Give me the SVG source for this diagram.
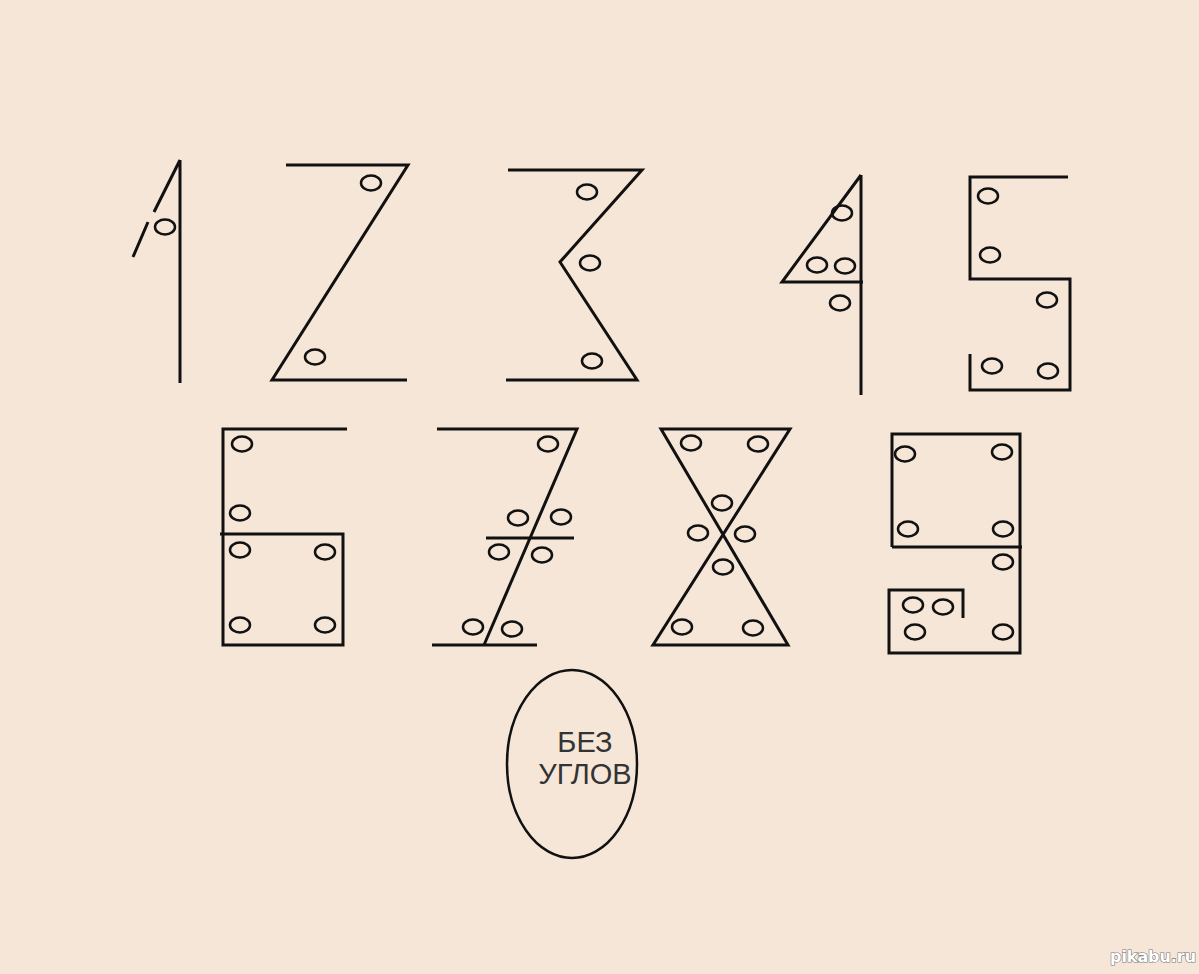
<svg xmlns="http://www.w3.org/2000/svg" width="1199" height="974" viewBox="0 0 1199 974">
<style>
.ln{fill:none;stroke:#111;stroke-width:3;stroke-linejoin:miter;stroke-linecap:butt}
.dot{fill:none;stroke:#111;stroke-width:2.5}
.lbl{font-family:"Liberation Sans",Arial,sans-serif;font-size:29px;fill:#333;text-anchor:middle}
.wm{font-family:"DejaVu Sans",sans-serif;font-weight:bold;font-size:16px;fill:#fff;stroke:#777;stroke-width:1.2;paint-order:stroke}
</style>
<defs>
<ellipse id="o" cx="0" cy="0" rx="10" ry="7.5" class="dot"/>
</defs>
<rect x="0" y="0" width="1199" height="974" fill="#f6e6d8"/>
<g id="digit1">
<path class="ln" d="M180,160 V383 M180,160 L154,212 M148,222 L133,257"/>
<use href="#o" x="165" y="227"/>
</g>
<g id="digit2">
<path class="ln" d="M286,165 H408 L272,380 H407"/>
<use href="#o" x="371" y="183"/>
<use href="#o" x="315" y="357"/>
</g>
<g id="digit3">
<path class="ln" d="M508,170 H642 L560,262 L637,380 H506"/>
<use href="#o" x="587" y="192"/>
<use href="#o" x="590" y="263"/>
<use href="#o" x="592" y="361"/>
</g>
<g id="digit4">
<path class="ln" d="M861,175 V395 M861,175 L782,282 H863"/>
<use href="#o" x="842" y="213"/>
<use href="#o" x="817" y="265"/>
<use href="#o" x="845" y="266"/>
<use href="#o" x="840" y="303"/>
</g>
<g id="digit5">
<path class="ln" d="M1068,177 H970 V279 H1070 V390 H970 V354"/>
<use href="#o" x="988" y="196"/>
<use href="#o" x="990" y="255"/>
<use href="#o" x="1047" y="300"/>
<use href="#o" x="992" y="366"/>
<use href="#o" x="1048" y="371"/>
</g>
<g id="digit6">
<path class="ln" d="M347,429 H223 V645 H343 V534 H220"/>
<use href="#o" x="242" y="444"/>
<use href="#o" x="240" y="513"/>
<use href="#o" x="240" y="550"/>
<use href="#o" x="325" y="552"/>
<use href="#o" x="240" y="625"/>
<use href="#o" x="325" y="625"/>
</g>
<g id="digit7">
<path class="ln" d="M437,429 H577 L484,645 M432,645 H537 M486,538 H574"/>
<use href="#o" x="548" y="444"/>
<use href="#o" x="518" y="518"/>
<use href="#o" x="561" y="517"/>
<use href="#o" x="499" y="552"/>
<use href="#o" x="542" y="555"/>
<use href="#o" x="473" y="627"/>
<use href="#o" x="512" y="629"/>
</g>
<g id="digit8">
<path class="ln" d="M661,429 H790 L653,645 H788 Z"/>
<use href="#o" x="691" y="443"/>
<use href="#o" x="758" y="444"/>
<use href="#o" x="722" y="503"/>
<use href="#o" x="698" y="533"/>
<use href="#o" x="745" y="534"/>
<use href="#o" x="723" y="567"/>
<use href="#o" x="682" y="627"/>
<use href="#o" x="753" y="628"/>
</g>
<g id="digit9">
<path class="ln" d="M892,547 V434 H1020 V653 H889 V590 H963 V618 M892,547 H1022"/>
<use href="#o" x="905" y="454"/>
<use href="#o" x="1002" y="452"/>
<use href="#o" x="908" y="529"/>
<use href="#o" x="1003" y="529"/>
<use href="#o" x="1003" y="562"/>
<use href="#o" x="913" y="605"/>
<use href="#o" x="943" y="607"/>
<use href="#o" x="915" y="632"/>
<use href="#o" x="1003" y="632"/>
</g>
<g id="no-corners">
<ellipse cx="572" cy="764" rx="65" ry="94" fill="none" stroke="#111" stroke-width="2.5"/>
<text class="lbl" x="585" y="752">БЕЗ</text>
<text class="lbl" x="585" y="784">УГЛОВ</text>
</g>
<text class="wm" x="1110" y="962" textLength="86" lengthAdjust="spacingAndGlyphs">pikabu.ru</text>
</svg>
